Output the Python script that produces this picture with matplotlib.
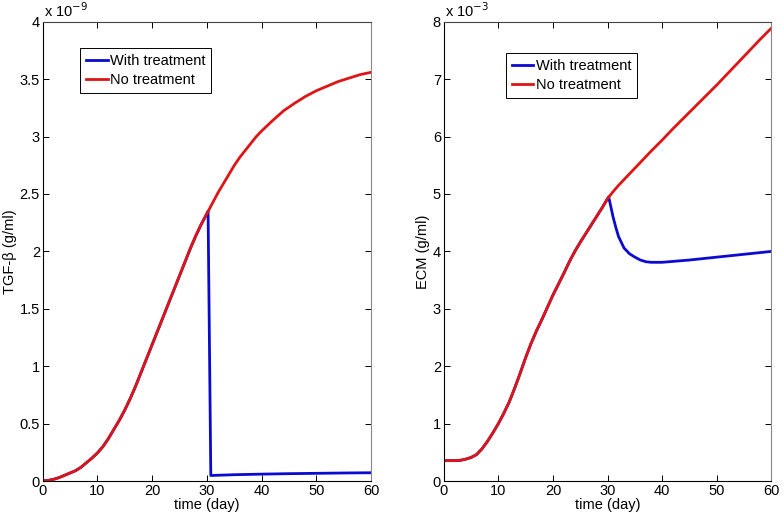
import matplotlib
matplotlib.use("Agg")
import matplotlib.pyplot as plt
from matplotlib.ticker import FormatStrFormatter

# TGF-beta (units of 1e-9 g/ml)
tgf_t_none = [0, 1, 2, 3, 4, 5, 6, 7, 8, 9, 10, 11, 12, 13, 14, 15, 16, 17,
              18, 19, 20, 21, 22, 23, 24, 25, 26, 27, 28, 29, 30, 31, 32, 33,
              34, 35, 36, 37, 38, 39, 40, 42, 44, 46, 48, 50, 52, 54, 56, 58,
              60]
tgf_none = [0, 0.005, 0.015, 0.03, 0.05, 0.07, 0.09, 0.12, 0.16, 0.2, 0.245,
            0.3, 0.37, 0.45, 0.53, 0.62, 0.72, 0.83, 0.95, 1.07, 1.19, 1.31,
            1.43, 1.55, 1.67, 1.79, 1.91, 2.03, 2.14, 2.24, 2.33, 2.42, 2.51,
            2.59, 2.67, 2.75, 2.82, 2.88, 2.94, 3.0, 3.05, 3.14, 3.225, 3.29,
            3.35, 3.40, 3.44, 3.48, 3.51, 3.54, 3.56]
tgf_t_treat = [0, 1, 2, 3, 4, 5, 6, 7, 8, 9, 10, 11, 12, 13, 14, 15, 16, 17,
               18, 19, 20, 21, 22, 23, 24, 25, 26, 27, 28, 29, 30, 30.2,
               30.7, 35, 40, 45, 50, 55, 60]
tgf_treat = [0, 0.005, 0.015, 0.03, 0.05, 0.07, 0.09, 0.12, 0.16, 0.2, 0.245,
             0.3, 0.37, 0.45, 0.53, 0.62, 0.72, 0.83, 0.95, 1.07, 1.19, 1.31,
             1.43, 1.55, 1.67, 1.79, 1.91, 2.03, 2.14, 2.24, 2.33, 2.35,
             0.048, 0.055, 0.06, 0.064, 0.067, 0.07, 0.072]

# ECM (units of 1e-3 g/ml)
ecm_t_none = [0, 2, 3, 4, 5, 6, 7, 8, 9, 10, 11, 12, 13, 14, 15, 16, 17, 18,
              19, 20, 21, 22, 23, 24, 25, 26, 27, 28, 29, 30, 31, 32, 34, 35,
              36, 38, 40, 42, 44, 46, 48, 50, 52, 54, 56, 58, 60]
ecm_none = [0.355, 0.355, 0.36, 0.38, 0.41, 0.46, 0.56, 0.69, 0.84, 1.0, 1.18,
            1.38, 1.62, 1.88, 2.15, 2.4, 2.62, 2.82, 3.03, 3.24, 3.43, 3.62,
            3.82, 4.0, 4.16, 4.31, 4.46, 4.61, 4.76, 4.92, 5.04, 5.15, 5.35,
            5.45, 5.55, 5.75, 5.94, 6.14, 6.33, 6.52, 6.71, 6.9, 7.1, 7.3,
            7.5, 7.7, 7.89]
ecm_t_treat = [0, 2, 3, 4, 5, 6, 7, 8, 9, 10, 11, 12, 13, 14, 15, 16, 17, 18,
               19, 20, 21, 22, 23, 24, 25, 26, 27, 28, 29, 30, 30.2, 31, 31.5,
               32, 33, 34, 35, 36, 37, 38, 40, 45, 50, 55, 60]
ecm_treat = [0.355, 0.355, 0.36, 0.38, 0.41, 0.46, 0.56, 0.69, 0.84, 1.0,
             1.18, 1.38, 1.62, 1.88, 2.15, 2.4, 2.62, 2.82, 3.03, 3.24, 3.43,
             3.62, 3.82, 4.0, 4.16, 4.31, 4.46, 4.61, 4.76, 4.92, 4.95, 4.6,
             4.42, 4.26, 4.06, 3.96, 3.9, 3.85, 3.82, 3.81, 3.81, 3.85, 3.9,
             3.95, 4.0]

BLUE = "#0a0ad0"
RED = "#dd1515"

plt.rcParams.update({
    "font.family": "Liberation Sans",
    "font.size": 10.5,
    "axes.linewidth": 0.8,
})

fig = plt.figure(figsize=(7.84, 5.16), dpi=100)
ax1 = fig.add_axes([0.0545, 0.0678, 0.419, 0.890])
ax2 = fig.add_axes([0.566, 0.0678, 0.418, 0.890])

panels = (
    (ax1, tgf_t_treat, tgf_treat, tgf_t_none, tgf_none, 4, 0.5,
     "TGF-β (g/ml)", "-9", (0.114, 0.943)),
    (ax2, ecm_t_treat, ecm_treat, ecm_t_none, ecm_none, 8, 1,
     "ECM (g/ml)", "-3", (0.189, 0.932)),
)

for ax, tt, yt, tn, yn, ymax, ystep, ylabel, expo, anchor in panels:
    ax.plot(tt, yt, color=BLUE, linewidth=2.0, label="With treatment")
    ax.plot(tn, yn, color=RED, linewidth=2.0, label="No treatment")
    ax.set_xlim(0, 60)
    ax.set_ylim(0, ymax)
    ax.set_xticks(range(0, 61, 10))
    ax.set_yticks([i * ystep for i in range(int(ymax / ystep) + 1)])
    ax.yaxis.set_major_formatter(FormatStrFormatter("%g"))
    ax.tick_params(direction="in", top=True, right=True, length=4,
                   width=0.7, pad=2, labelsize=10.5)
    ax.spines["right"].set_color("#888888")
    ax.spines["top"].set_color("#444444")
    ax.set_xlabel("time (day)", labelpad=0)
    ax.set_ylabel(ylabel, labelpad=2)
    ax.text(0.005, 1.004, r"x 10$^{%s}$" % expo, transform=ax.transAxes,
            ha="left", va="bottom", fontsize=10.5)
    leg = ax.legend(loc="upper left", bbox_to_anchor=anchor,
                    borderaxespad=0, fancybox=False, framealpha=1,
                    edgecolor="black", handlelength=1.5, handletextpad=0.15,
                    borderpad=0.4, labelspacing=0.35, fontsize=10.5)
    leg.get_frame().set_linewidth(0.7)

fig.savefig("out.png", dpi=100, facecolor="white")
